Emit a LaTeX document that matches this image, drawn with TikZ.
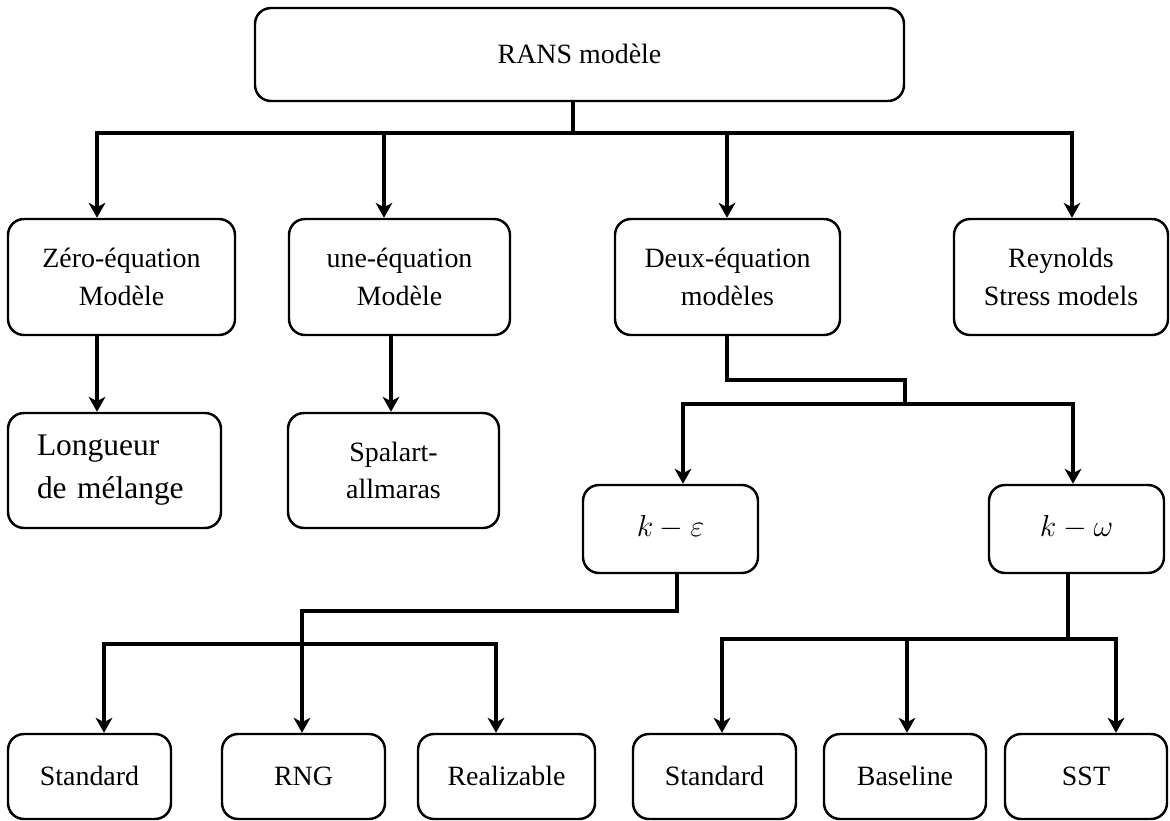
\documentclass[tikz,border=0pt]{standalone}
\usepackage{fontspec}
\setmainfont{Liberation Serif}
\usetikzlibrary{arrows.meta}
\begin{document}
\begin{tikzpicture}[x=0.02cm,y=-0.02cm,
  box/.style={draw,line width=1.4pt,rounded corners=0.32cm,align=center,inner sep=0pt,
    font=\fontsize{15.9}{21.5}\selectfont},
  sz/.style 2 args={minimum width=#1*0.02cm,minimum height=#2*0.02cm},
  one/.style={text height=13pt,text depth=2.5pt},
  mathbox/.style={font=\fontsize{18.5}{22}\selectfont,text height=12pt,text depth=3pt},
  conn/.style={line width=1.9pt,line cap=rect},
  arr/.style={conn,-{Stealth[length=8.5pt,width=9.5pt,inset=2.5pt]}},
  toparr/.style={arr,line width=2.1pt},
  bus/.style={line width=2.4pt,line cap=rect}]
\useasboundingbox (0,0) rectangle (1170,821);

% nodes
\node[box,one,sz={649}{93}] (rans) at (579.5,54.5) {RANS modèle};
\node[box,sz={227}{116}] (zero) at (121.5,277) {Zéro-équation\\Modèle};
\node[box,sz={221}{116}] (une) at (399.5,277) {une-équation\\Modèle};
\node[box,sz={225}{116}] (deux) at (727.5,277) {Deux-équation\\modèles};
\node[box,sz={214}{116}] (reyn) at (1061,277) {Reynolds\\Stress models};
\node[box,sz={213}{115},align=left,text width=155*0.02cm,font=\fontsize{17.9}{24.4}\selectfont] (long) at (114.5,470.5) {Longueur\\de mélange};
\node[box,sz={211}{115}] (spal) at (393.5,470.5) {Spalart-\\allmaras};
\node[box,sz={175}{88},mathbox] (ke) at (670.5,529) {$k-\varepsilon$};
\node[box,sz={175}{88},mathbox] (kw) at (1076.5,529) {$k-\omega$};
\node[box,one,sz={163}{85}] (std1) at (89.5,776.5) {Standard};
\node[box,one,sz={163}{85}] (rng) at (303.5,776.5) {RNG};
\node[box,one,sz={177}{85}] (real) at (506.5,776.5) {Realizable};
\node[box,one,sz={163}{85}] (std2) at (714.5,776.5) {Standard};
\node[box,one,sz={162}{85}] (base) at (905,776.5) {Baseline};
\node[box,one,sz={162}{85}] (sst) at (1086,776.5) {SST};

% top level connectors
\coordinate (j0) at (573,133);
\coordinate (bL) at (97,133);
\coordinate (bR) at (1072,133);
\coordinate (u1) at (384,137);
\coordinate (d1) at (727,137);
\draw[bus] (rans.south -| j0) -- (j0);
\draw[bus] (bL) -- (bR);
\draw[toparr] (bL) -- (bL |- zero.north);
\draw[toparr] (bR) -- (bR |- reyn.north);
\draw[toparr] (u1) -- (u1 |- une.north);
\draw[toparr] (d1) -- (d1 |- deux.north);

% second level
\coordinate (s1) at (391,400);
\draw[toparr] (zero.south -| bL) -- (long.north -| bL);
\draw[toparr] (une.south -| s1) -- (spal.north -| s1);

% deux -> k-eps / k-omega
\coordinate (dm) at (905,380);
\coordinate (dk) at (905,404);
\coordinate (k1) at (683,404);
\coordinate (k2) at (1073,404);
\draw[conn] (deux.south -| d1) |- (dm) -- (dk);
\draw[conn] (k1) -- (k2);
\draw[arr] (k1) -- (k1 |- ke.north);
\draw[arr] (k2) -- (k2 |- kw.north);

% k-eps branch
\coordinate (e1) at (677,611);
\coordinate (r1) at (302,611);
\draw[arr] (ke.south -| e1) |- (r1) -- (r1 |- rng.north);
\coordinate (sL) at (104,644);
\coordinate (sR) at (496,644);
\draw[conn] (sL) -- (sR);
\draw[arr] (sL) -- (sL |- std1.north);
\draw[arr] (sR) -- (sR |- real.north);

% k-omega branch
\coordinate (w0) at (1068,639);
\coordinate (wL) at (722,639);
\coordinate (wM) at (907,639);
\coordinate (wR) at (1116,639);
\draw[conn] (kw.south -| w0) -- (w0);
\draw[conn] (wL) -- (wR);
\draw[arr] (wL) -- (wL |- std2.north);
\draw[arr] (wM) -- (wM |- base.north);
\draw[arr] (wR) -- (wR |- sst.north);
\end{tikzpicture}
\end{document}
